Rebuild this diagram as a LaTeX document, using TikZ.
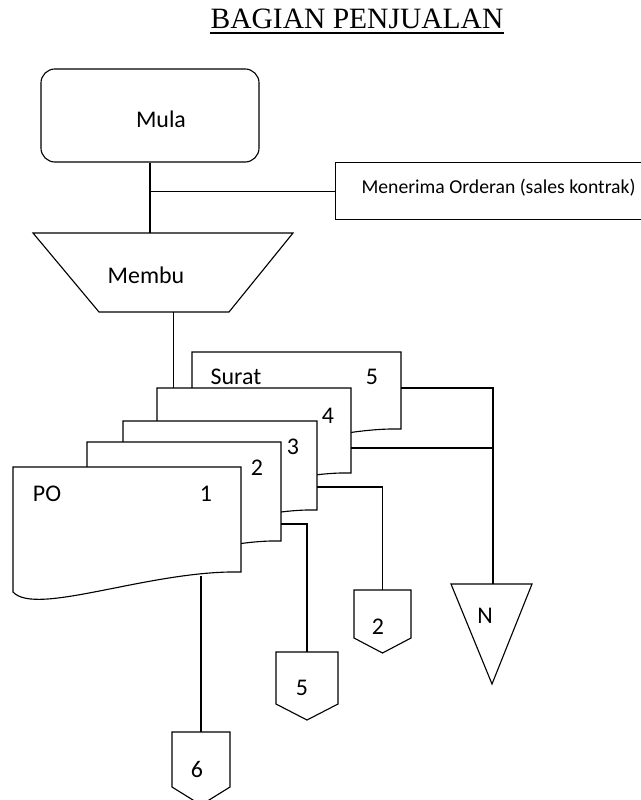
\documentclass[tikz,border=0pt]{standalone}
\usepackage{fontspec}
\setmainfont{Carlito}
\newfontfamily\titlefont{Liberation Serif}
\usetikzlibrary{calc}

% lembar dokumen dengan sisi bawah bergelombang
\newcommand{\docpage}[5]{%
  \filldraw[docpage] (#2,#3) coordinate (#1-nw) -- (#4,#3) coordinate (#1-ne)
    -- (#4,#5) coordinate (#1-se)
    .. controls ({#4-0.4*(#4-#2)},{#5-2}) and ({#2+0.1*(#4-#2)},{#5+45}) .. (#2,{#5+20}) -- cycle;}
% penghubung halaman lain
\newcommand{\offpage}[6]{%
  \draw (#2,#4) -- (#3,#4) -- (#3,#5) -- ({(#2+#3)/2},#6) -- (#2,#5) -- cycle;
  \coordinate (#1) at ({(#2+#3)/2},#4);}

\begin{document}
\begin{tikzpicture}[x=0.025cm,y=-0.025cm,line width=0.8pt,
    lbl/.style={font=\fontsize{17}{20}\selectfont, inner sep=0pt},
    docpage/.style={draw, fill=white, line join=miter}]
        \useasboundingbox (0,0) rectangle (640,800);

        % judul
        \node[anchor=base, inner sep=0pt, font=\titlefont\fontsize{21}{25}\selectfont] (judul) at (357,29) {BAGIAN PENJUALAN};
        \draw[line width=1.1pt] ([yshift=-2.8pt]judul.base west) -- ([yshift=-2.8pt]judul.base east);

        % mula dan orderan
        \node[draw, rounded corners=0.35cm, minimum width=5.45cm, minimum height=2.325cm] (mula) at (150,115.5) {};
        \node[lbl] (mulatext) at (161,119) {Mula};
        \node[draw, anchor=north west, minimum width=8cm, minimum height=1.425cm, inner sep=0pt] (order) at (335,162) {};
        \node[anchor=west, inner sep=0pt, font=\fontsize{14}{16}\selectfont] (ordertext) at (361,188) {Menerima Orderan (sales kontrak)};

        % membuat (trapesium)
        \coordinate (tA) at (33,233);
        \coordinate (tB) at (293,233);
        \coordinate (tC) at (229,312);
        \coordinate (tD) at (99,312);
        \draw (tA) -- (tB) -- (tC) -- (tD) -- cycle;
        \path (tD) -- (tC) coordinate[pos=0.57] (tOut);
        \node[lbl] (membu) at (146,275) {Membu};

        \draw (mula.south) -- (mula.south |- tA);
        \draw (mula.south |- order.west) -- (order.west);

        % dokumen 5 .. 1
        \docpage{d5}{192}{352}{401}{429}
        \docpage{d4}{157}{388}{351}{473}
        \docpage{d3}{123}{421}{317}{510}
        \docpage{d2}{87}{442}{281}{541}
        \docpage{d1}{13}{467}{241}{572}
        \draw (tOut) -- (tOut |- d4-nw);

        \node[lbl] (surat) at (236,377) {Surat};
        \node[lbl] (no5) at (372,377) {5};
        \node[lbl] (no4) at (328,416) {4};
        \node[lbl] (no3) at (293,447) {3};
        \node[lbl] (no2) at (257,468) {2};
        \node[lbl] (po) at (47,494) {PO};
        \node[lbl] (no1) at (206,494) {1};

        % arsip N
        \coordinate (nA) at (451,584);
        \coordinate (nB) at (532,584);
        \coordinate (nC) at (492,684);
        \draw (nA) -- (nB) -- (nC) -- cycle;
        \coordinate (nTop) at (493,584);
        \node[lbl] (arsip) at (485,616) {N};

        % penghubung
        \offpage{c2}{354}{411}{590}{638}{653}
        \offpage{c5}{276}{338}{652}{704}{720}
        \offpage{c6}{172}{230}{732}{787}{805}
        \node[lbl] (ke2) at (378,627) {2};
        \node[lbl] (ke5) at (302,688) {5};
        \node[lbl] (ke6) at (197,770) {6};

        \coordinate (d5-out) at (401,388);
        \coordinate (d4-out) at (351,448);
        \coordinate (d3-out) at (317,487);
        \coordinate (d2-out) at (281,524);
        \coordinate (d1-out) at (201,576);

        \draw (d5-out) -| (nTop);
        \draw (d4-out) -- (d4-out -| nTop);
        \draw (d3-out) -| (c2);
        \draw (d2-out) -| (c5);
        \draw (d1-out) -- (c6);
    \end{tikzpicture}
\end{document}
